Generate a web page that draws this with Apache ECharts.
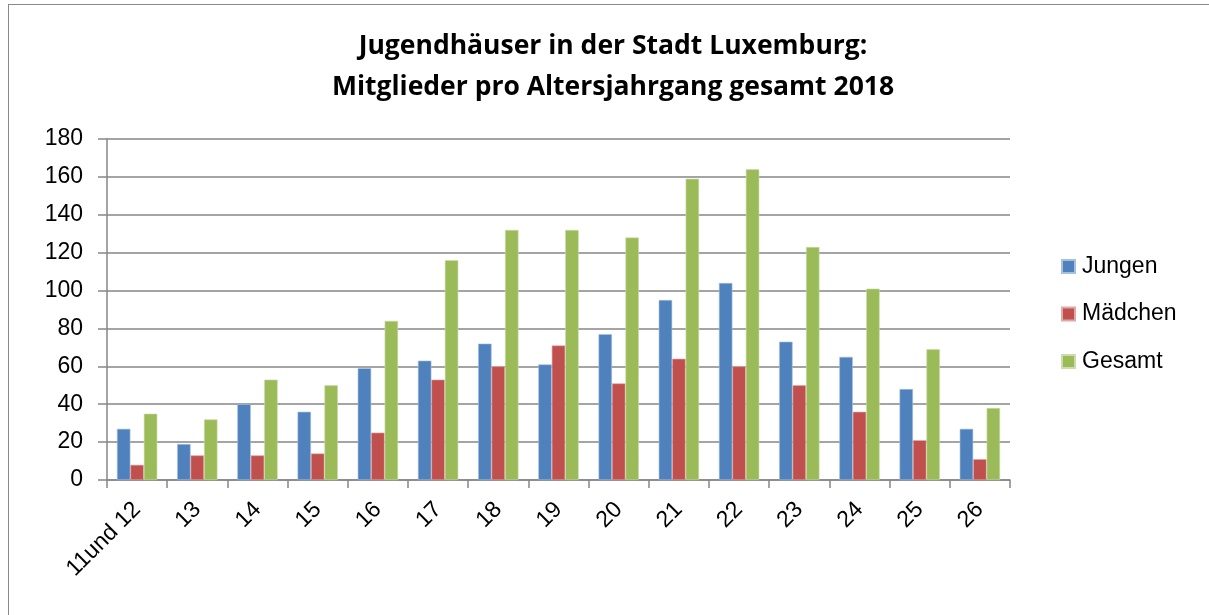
<!DOCTYPE html>
<html>
<head>
    <meta charset="utf-8">
    <title>Jugendhäuser Mitglieder 2018</title>
    <style type="text/css">
        html, body {
            margin: 0;
            padding: 0;
            width: 100%;
            height: 100%;
            background: #fff;
            overflow: hidden;
        }
        #frame {
            position: absolute;
            left: 8px;
            top: 4px;
            width: 1210px;
            height: 620px;
            border: 1px solid #8a8a8a;
        }
        #main {
            position: absolute;
            left: 0;
            top: 0;
            width: 1209px;
            height: 615px;
        }
    </style>
</head>
<body>
    <div id="frame"></div>
    <div id="main"></div>
    <script src="https://cdn.jsdelivr.net/npm/echarts@6/dist/echarts.min.js"></script>
    <script>
        // 年龄组
        var categories = ['11und 12', '13', '14', '15', '16', '17', '18', '19', '20', '21', '22', '23', '24', '25', '26'];
        // Jungen
        var jungen = [27, 19, 40, 36, 59, 63, 72, 61, 77, 95, 104, 73, 65, 48, 27];
        // Mädchen
        var maedchen = [8, 13, 13, 14, 25, 53, 60, 71, 51, 64, 60, 50, 36, 21, 11];
        // Gesamt
        var gesamt = [35, 32, 53, 50, 84, 116, 132, 132, 128, 159, 164, 123, 101, 69, 38];

        var font = 'Liberation Sans, Arial, sans-serif';

        var myChart = echarts.init(document.getElementById('main'));
        var option = {
            animation: false,
            title: {
                text: 'Jugendhäuser in der Stadt Luxemburg:\nMitglieder pro Altersjahrgang gesamt 2018',
                left: 608,
                textAlign: 'center',
                top: 21,
                textStyle: {
                    fontFamily: 'Open Sans, sans-serif',
                    fontSize: 26.5,
                    fontWeight: 'bold',
                    color: '#000',
                    lineHeight: 41
                }
            },
            legend: {
                orient: 'vertical',
                left: 1056,
                top: 250,
                itemWidth: 13,
                itemHeight: 13,
                itemGap: 24.5,
                icon: 'rect',
                textStyle: {
                    fontFamily: font,
                    fontSize: 23,
                    color: '#000',
                    padding: [0, 0, 0, 2]
                },
                data: ['Jungen', 'Mädchen', 'Gesamt']
            },
            grid: {
                left: 107,
                right: 199,
                top: 139,
                bottom: 135
            },
            xAxis: {
                type: 'category',
                data: categories,
                axisLine: { lineStyle: { color: '#868686', width: 1.5 } },
                axisTick: { show: true, length: 8, lineStyle: { color: '#868686', width: 1.5 } },
                axisLabel: {
                    rotate: 45,
                    interval: 0,
                    margin: 26,
                    fontFamily: font,
                    fontSize: 23,
                    color: '#000'
                }
            },
            yAxis: {
                type: 'value',
                min: 0,
                max: 180,
                interval: 20,
                axisLine: { show: true, lineStyle: { color: '#868686', width: 1.5 } },
                axisTick: { show: true, length: 9, lineStyle: { color: '#868686', width: 1.5 } },
                splitLine: { lineStyle: { color: '#868686', width: 1.5 } },
                axisLabel: {
                    margin: 24,
                    fontFamily: font,
                    fontSize: 23,
                    color: '#000'
                }
            },
            series: [
                {
                    name: 'Jungen',
                    type: 'bar',
                    data: jungen,
                    barGap: '0%',
                    barCategoryGap: '33%',
                    itemStyle: { color: '#4F81BD', borderColor: '#a7c0de', borderWidth: 0.6 }
                },
                {
                    name: 'Mädchen',
                    type: 'bar',
                    data: maedchen,
                    itemStyle: { color: '#C0504D', borderColor: '#e0a8a6', borderWidth: 0.6 }
                },
                {
                    name: 'Gesamt',
                    type: 'bar',
                    data: gesamt,
                    itemStyle: { color: '#9BBB59', borderColor: '#cddcac', borderWidth: 0.6 }
                }
            ]
        };
        myChart.setOption(option);
    </script>
</body>
</html>
